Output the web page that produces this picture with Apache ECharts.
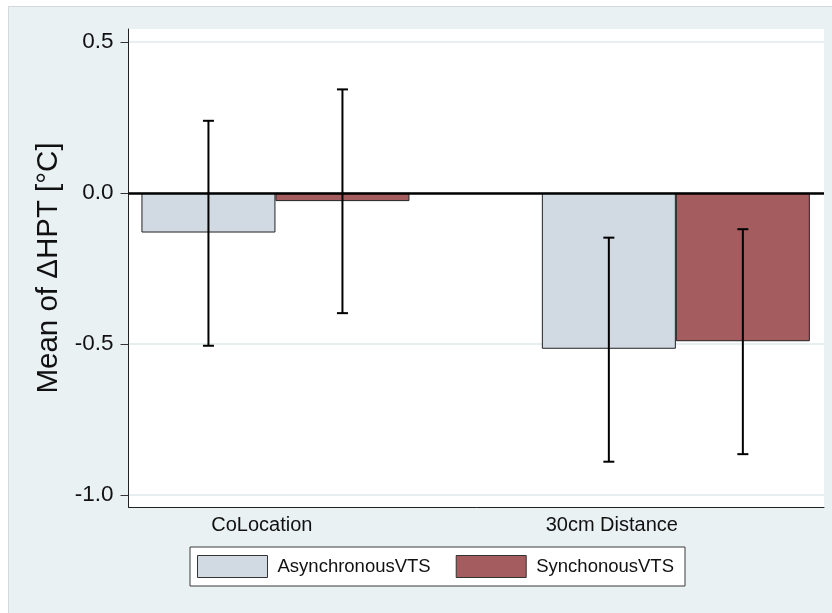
<!DOCTYPE html>
<html>
<head>
<meta charset="utf-8">
<script src="https://cdn.jsdelivr.net/npm/echarts@6/dist/echarts.min.js"></script>
<style>
  html, body { margin: 0; padding: 0; background: #ffffff; }
  #wrap { position: relative; width: 832px; height: 613px; overflow: hidden; }
  #frame { position: absolute; left: 8px; top: 6px; right: -2px; bottom: -2px;
           background: #eaf1f3; border: 1px solid #d3d8da; }
  #chart { position: absolute; left: 0; top: 0; width: 832px; height: 613px; }
</style>
</head>
<body>
<div id="wrap">
  <div id="frame"></div>
  <div id="chart"></div>
</div>
<script>
// Conditions on the category axis and the two stimulation series
const categories = ['CoLocation', '30cm Distance'];
const seriesNames = ['AsynchronousVTS', 'SynchonousVTS'];

// Mean change in HPT per condition, with 95% CI bounds
const asyncMean = [-0.131, -0.516];
const asyncLow  = [-0.506, -0.890];
const asyncHigh = [ 0.239, -0.148];
const syncMean  = [-0.027, -0.491];
const syncLow   = [-0.398, -0.865];
const syncHigh  = [ 0.343, -0.120];

// Y axis tick values
const yTicks = [-1.0, -0.5, 0.0, 0.5];

const FONT = '"Liberation Sans", Arial, sans-serif';
const BAR_W = 134;
const ASYNC_COLOR = '#d1d9e2';
const SYNC_COLOR = '#a45c5f';

// group positions on the x scale: first condition at 1, second at 2
const groupX = categories.map((c, i) => i + 1);
// label anchors on the x scale, one per condition
const labelX = [0.966, 1.84];

const barData = (vals) => vals.map((v, i) => [groupX[i], v]);
const ciData = (lo, hi) => lo.map((v, i) => [groupX[i], lo[i], hi[i]]);

function errorBar(sideSign) {
  return function (params, api) {
    const x = api.value(0);
    const pLow = api.coord([x, api.value(1)]);
    const pHigh = api.coord([x, api.value(2)]);
    const cx = pLow[0] + sideSign * BAR_W / 2;
    const cap = 5.5;
    const style = { stroke: '#000', lineWidth: 2 };
    return {
      type: 'group',
      children: [
        { type: 'line', shape: { x1: cx, y1: pLow[1], x2: cx, y2: pHigh[1] }, style },
        { type: 'line', shape: { x1: cx - cap, y1: pLow[1], x2: cx + cap, y2: pLow[1] }, style },
        { type: 'line', shape: { x1: cx - cap, y1: pHigh[1], x2: cx + cap, y2: pHigh[1] }, style }
      ]
    };
  };
}

const chart = echarts.init(document.getElementById('chart'), null, { renderer: 'canvas' });

chart.setOption({
  backgroundColor: 'transparent',
  animation: false,
  textStyle: { fontFamily: FONT },
  grid: {
    left: 128.5, right: 8, top: 29, bottom: 106,
    show: true, backgroundColor: '#ffffff', borderWidth: 0
  },
  legend: {
    data: seriesNames,
    left: 190, top: 547,
    orient: 'horizontal',
    icon: 'rect',
    itemWidth: 70, itemHeight: 22, itemGap: 25,
    padding: [8, 11, 8, 7],
    backgroundColor: '#ffffff',
    borderColor: '#3a3a3a', borderWidth: 1, borderRadius: 0,
    itemStyle: { borderWidth: 1, borderColor: '#333' },
    textStyle: { fontFamily: FONT, fontSize: 18.5, color: '#111', padding: [0, 0, 0, 5] }
  },
  xAxis: {
    type: 'value',
    min: 0.633, max: 2.37,
    axisLine: { show: true, onZero: false, lineStyle: { color: '#222', width: 1 } },
    axisTick: { show: false },
    splitLine: { show: false },
    axisLabel: {
      customValues: labelX,
      formatter: (v) => {
        const i = labelX.findIndex(p => Math.abs(p - v) < 1e-6);
        return i >= 0 ? categories[i] : '';
      },
      fontFamily: FONT, fontSize: 20, color: '#111', margin: 8
    }
  },
  yAxis: {
    type: 'value',
    min: -1.04, max: 0.543,
    name: 'Mean of \u0394HPT [\u00b0C]',
    nameLocation: 'middle',
    nameGap: 64,
    nameTextStyle: { fontFamily: FONT, fontSize: 29.5, color: '#111' },
    axisLine: { show: true, lineStyle: { color: '#222', width: 1 } },
    axisTick: { show: true, customValues: yTicks, length: 8, lineStyle: { color: '#333', width: 1 } },
    axisLabel: {
      customValues: yTicks,
      formatter: (v) => v.toFixed(1),
      fontFamily: FONT, fontSize: 22.5, color: '#111', margin: 15
    },
    splitLine: { show: true, lineStyle: { color: '#e6eef0', width: 2 } }
  },
  series: [
    {
      name: seriesNames[0], type: 'bar',
      data: barData(asyncMean),
      barWidth: BAR_W, barGap: '0%',
      itemStyle: { color: ASYNC_COLOR, borderColor: '#222', borderWidth: 1 },
      z: 2
    },
    {
      name: seriesNames[1], type: 'bar',
      data: barData(syncMean),
      barWidth: BAR_W, barGap: '0%',
      itemStyle: { color: SYNC_COLOR, borderColor: '#222', borderWidth: 1 },
      z: 2,
      markLine: {
        silent: true, symbol: 'none',
        label: { show: false },
        lineStyle: { color: '#000', width: 2.5, type: 'solid' },
        data: [{ yAxis: 0 }]
      }
    },
    {
      name: 'ci-async', type: 'custom',
      data: ciData(asyncLow, asyncHigh),
      renderItem: errorBar(-1), z: 5, silent: true
    },
    {
      name: 'ci-sync', type: 'custom',
      data: ciData(syncLow, syncHigh),
      renderItem: errorBar(1), z: 5, silent: true
    }
  ]
});
</script>
</body>
</html>
